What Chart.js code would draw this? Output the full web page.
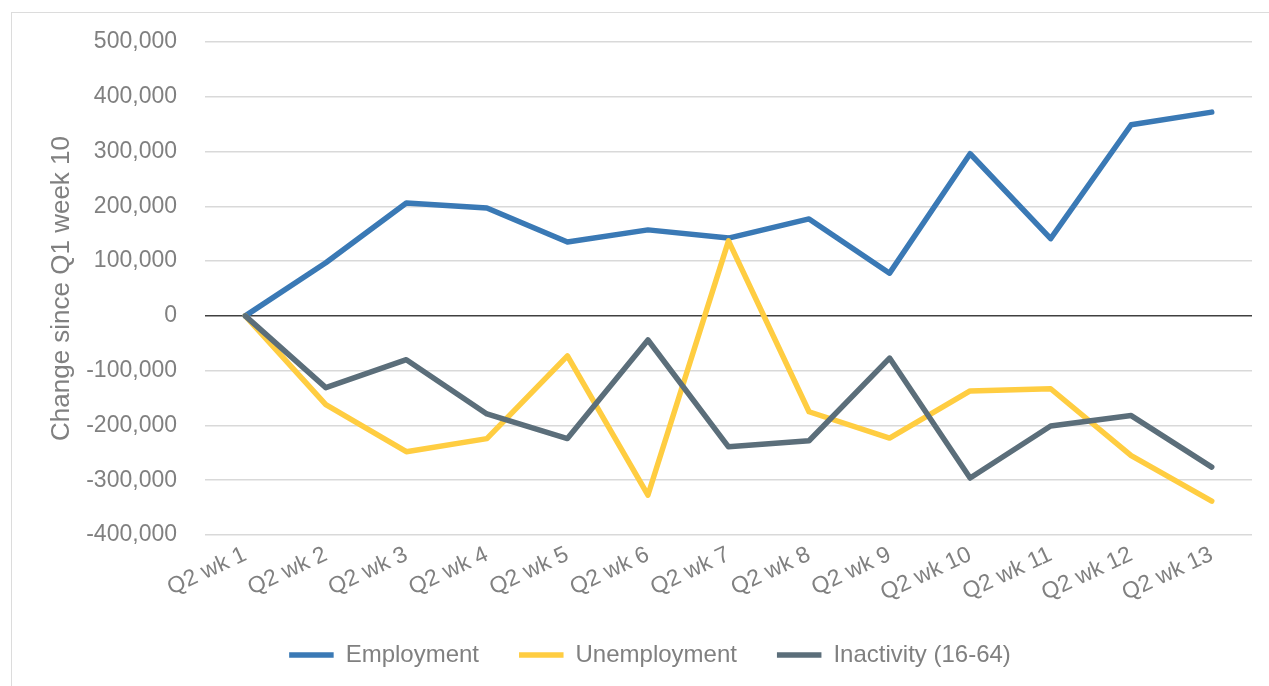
<!DOCTYPE html>
<html>
<head>
<meta charset="utf-8">
<script src="https://cdn.jsdelivr.net/npm/chart.js@4"></script>
<style>
  html, body { margin: 0; padding: 0; background: #fff; overflow: hidden; }
  #frame { position: absolute; left: 11px; top: 12px; width: 1300px; height: 700px; border: 1.5px solid #dcdcdc; }
  #wrap { position: absolute; left: 0; top: 0; width: 1269px; height: 686px; }
</style>
</head>
<body>
<div id="frame"></div>
<div id="wrap"><canvas id="container"></canvas></div>
<script>
const weeks = ['Q2 wk 1', 'Q2 wk 2', 'Q2 wk 3', 'Q2 wk 4', 'Q2 wk 5', 'Q2 wk 6', 'Q2 wk 7',
    'Q2 wk 8', 'Q2 wk 9', 'Q2 wk 10', 'Q2 wk 11', 'Q2 wk 12', 'Q2 wk 13'];
const employment = [0, 97000, 206000, 197000, 135000, 157000, 142000, 177000, 78000, 296000, 141000, 349000, 372000];
const unemployment = [0, -162000, -248000, -224000, -73000, -327000, 137000, -175000, -223000, -137000, -133000, -255000, -338000];
const inactivity = [0, -131000, -80000, -179000, -224000, -44000, -239000, -228000, -77000, -296000, -201000, -182000, -276000];
const yMin = -400000;
const yMax = 500000;
const yStep = 100000;

const FONT = "'Liberation Sans', Arial, sans-serif";
const GREY = '#808080';

function series(label, data, color, order) {
    return {
        label: label,
        data: data,
        borderColor: color,
        backgroundColor: color,
        borderWidth: 5.5,
        borderCapStyle: 'round',
        borderJoinStyle: 'round',
        pointRadius: 0,
        pointHoverRadius: 0,
        tension: 0,
        order: order, // later series drawn on top, like the original
    };
}

const chart = new Chart(document.querySelector('#container'), {
    type: 'line',
    data: {
        labels: weeks,
        datasets: [
            series('Employment', employment, '#3A79B5', 2),
            series('Unemployment', unemployment, '#FFCD41', 1),
            series('Inactivity (16-64)', inactivity, '#5B6E7A', 0),
        ]
    },
    options: {
        responsive: true,
        maintainAspectRatio: false,
        animation: false,
        layout: {
            padding: { left: 42, right: 11, top: 42, bottom: 9 }
        },
        plugins: {
            tooltip: { enabled: false },
            legend: {
                position: 'bottom',
                labels: {
                    sort: (a, b) => a.datasetIndex - b.datasetIndex,
                    usePointStyle: true,
                    pointStyle: 'line',
                    pointStyleWidth: 44.5,
                    padding: 40,
                    color: GREY,
                    font: { family: FONT, size: 24 },
                    boxHeight: 24,
                }
            }
        },
        scales: {
            x: {
                offset: true,
                grid: { display: false, drawTicks: false },
                border: { display: false },
                ticks: {
                    color: GREY,
                    font: { family: FONT, size: 23 },
                    minRotation: 25,
                    maxRotation: 25,
                    autoSkip: false,
                    padding: 6,
                },
                afterFit: (s) => { s.height = 68; }
            },
            y: {
                min: yMin,
                max: yMax,
                grid: {
                    drawTicks: false,
                    color: (c) => c.tick && c.tick.value === 0 ? '#404040' : '#d9d9d9',
                    lineWidth: 1.5,
                },
                border: { display: false },
                ticks: {
                    stepSize: yStep,
                    color: GREY,
                    font: { family: FONT, size: 23 },
                    padding: 28,
                    callback: (v) => v.toLocaleString('en-US'),
                },
                title: {
                    display: true,
                    text: 'Change since Q1 week 10',
                    color: GREY,
                    font: { family: FONT, size: 26 },
                    padding: { top: 4, bottom: 4 },
                },
                afterFit: (s) => { s.width = 163; }
            },
            spacer: {
                type: 'linear',
                position: 'right',
                display: true,
                grid: { display: false },
                border: { display: false },
                ticks: { display: false },
                afterFit: (s) => { s.width = 6; }
            }
        }
    }
});
</script>
</body>
</html>
